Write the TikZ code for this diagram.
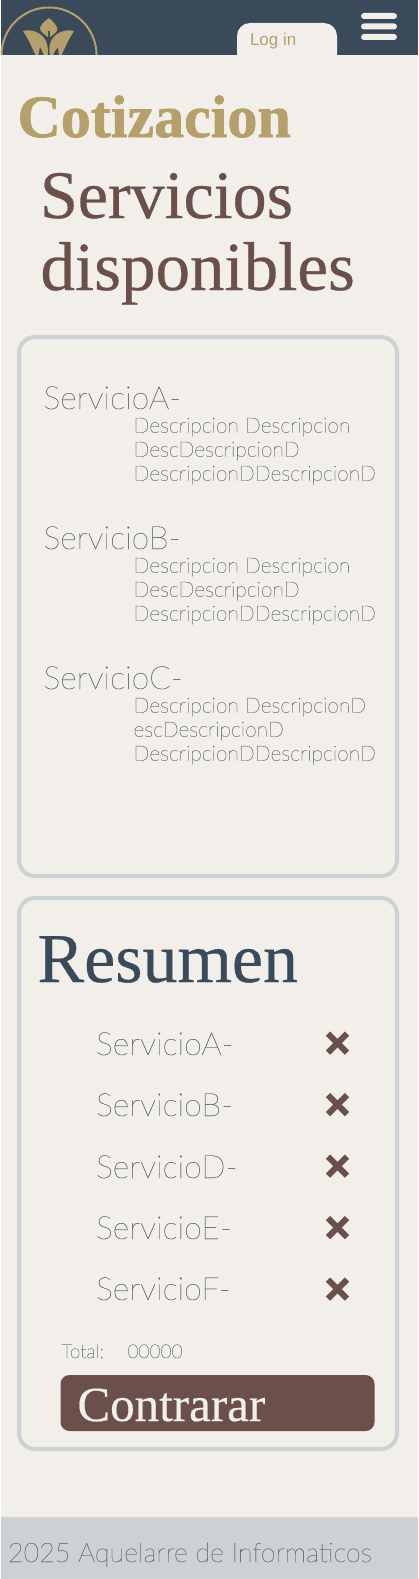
\documentclass[tikz,border=0pt]{standalone}
\usepackage{fontspec}
\usetikzlibrary{positioning}
\usetikzlibrary{shapes.misc}
\setmainfont{Liberation Serif}[FakeBold=0.4]
\newfontfamily\blackfont{Liberation Serif Bold}[FakeBold=1.2]
\newfontfamily\lightfont{Lato Thin}[FakeBold=0.25]
\newfontfamily\tabfont{Liberation Sans}
\definecolor{navy}{HTML}{3B4A5A}
\definecolor{gold}{HTML}{B59F6B}
\definecolor{cream}{HTML}{F2EFEA}
\definecolor{brown}{HTML}{6B4F4B}
\definecolor{mist}{HTML}{CDD1D4}
\definecolor{ink}{HTML}{5F6A75}
\tikzset{x=1pt, y=-1pt,
	every node/.style={inner sep=0pt, outer sep=0pt},
	heading/.style={anchor=base west, font=\fontsize{68}{72}\selectfont},
	card/.style={draw=mist, line width=4pt, rounded corners=16pt},
	service/.style={anchor=base west, text=ink, font=\lightfont\fontsize{32}{36}\selectfont},
	desc/.style={anchor=north west, align=left, text=ink, font=\lightfont\fontsize{21}{24}\selectfont},
	xmark/.style={cross out, draw=brown, line width=6pt, minimum size=19pt},
	bar/.style={fill=cream, rounded corners=3pt}
}
\begin{document}
\begin{tikzpicture}
	\useasboundingbox (0,0) rectangle (418,1579);
	\fill[cream] (0,0) rectangle (418,1579);
	\fill[white] (0,0) rectangle (1,1579);
	% header
	\fill[navy] (1,0) rectangle (418,55);
	\fill[cream, rounded corners=13pt] (237,70) -- (237,23) -- (337,23) -- (337,70) -- cycle;
	\fill[cream] (230,55) rectangle (345,75);
	\node[anchor=base west, text=gold, font=\tabfont\fontsize{17}{20}\selectfont] (login) at (250,45.5) {Log in};
	\fill[bar] (361,13) rectangle (397,19);
	\fill[bar] (361,23.5) rectangle (397,29.5);
	\fill[bar] (361,34) rectangle (397,40);
	% logo
	\begin{scope}
		\clip (0,0) rectangle (110,55);
		\draw[gold, line width=2pt] (49,55) circle[radius=47.5];
		\fill[gold] (49,18) .. controls (44,21) and (40,26) .. (40,29) .. controls (41,32) and (45,35) .. (48,37) -- (48,31) -- (50,31) -- (50,37) .. controls (53,35) and (57,32) .. (57.5,29) .. controls (57,26) and (53,21) .. (49,18) -- cycle;
		\fill[gold] (23,31) .. controls (32,29) and (41,32) .. (46,41) .. controls (48,46) and (48,50) .. (48,56) -- (44,56) .. controls (43,52) and (41,49) .. (40,47) -- (38,56) -- (36,56) .. controls (32,48) and (28,38) .. (23,31) -- cycle;
		\fill[gold] (74,31) .. controls (65,29) and (56,32) .. (51,41) .. controls (49,46) and (49,50) .. (50,56) -- (53,56) .. controls (54,52) and (56,49) .. (58,47) -- (59,56) -- (61,56) .. controls (65,48) and (69,38) .. (74,31) -- cycle;
	\end{scope}
	% titles
	\node[heading, text=gold, font=\blackfont\fontsize{60}{66}\selectfont] (cotizacion) at (17.5,137) {Cotizacion};
	\node[heading, text=brown] (servicios) at (40,218) {Servicios};
	\node[heading, text=brown, font=\fontsize{69}{72}\selectfont] (disponibles) at (40.5,290) {disponibles};
	% services card
	\draw[card] (19,337) rectangle (397,876);
	\node[service] (servA) at (43.5,409) {ServicioA-};
	\node[desc] (descA) at (133.5,418) {Descripcion Descripcion\\DescDescripcionD\\DescripcionDDescripcionD};
	\node[service] (servB) at (43.5,549) {ServicioB-};
	\node[desc] (descB) at (133.5,558) {Descripcion Descripcion\\DescDescripcionD\\DescripcionDDescripcionD};
	\node[service] (servC) at (43.5,689) {ServicioC-};
	\node[desc] (descC) at (133.5,698) {Descripcion DescripcionD\\escDescripcionD\\DescripcionDDescripcionD};
	% summary card
	\draw[card] (19,898) rectangle (397,1449);
	\node[heading, text=navy, font=\fontsize{70}{72}\selectfont] (resumen) at (37.5,982) {Resumen};
	\node[service] (itemA) at (96,1055) {ServicioA-};
	\node[service] (itemB) at (96,1116) {ServicioB-};
	\node[service] (itemD) at (96,1178) {ServicioD-};
	\node[service] (itemE) at (96,1239) {ServicioE-};
	\node[service] (itemF) at (96,1300) {ServicioF-};
	\node[xmark] (xA) at (337.5,1043) {};
	\node[xmark] (xB) at (337.5,1104.5) {};
	\node[xmark] (xD) at (337.5,1166) {};
	\node[xmark] (xE) at (337.5,1227.5) {};
	\node[xmark] (xF) at (337.5,1289) {};
	\node[service, font=\lightfont\fontsize{19}{24}\selectfont] (total) at (61.5,1358) {Total:};
	\node[service, font=\lightfont\fontsize{19}{24}\selectfont] (amount) at (127.5,1358) {00000};
	\node[fill=brown, rounded corners=9pt, minimum width=314pt, minimum height=56pt, anchor=north west] (button) at (60.5,1375) {};
	\node[anchor=base west, text=cream, font=\fontsize{49}{52}\selectfont] (contrarar) at (77.5,1421) {Contrarar};
	% footer
	\fill[mist] (1,1517) rectangle (418,1579);
	\node[service, font=\lightfont\fontsize{26.9}{30}\selectfont] (footer) at (8,1562) {2025 Aquelarre de Informaticos};
\end{tikzpicture}
\end{document}
